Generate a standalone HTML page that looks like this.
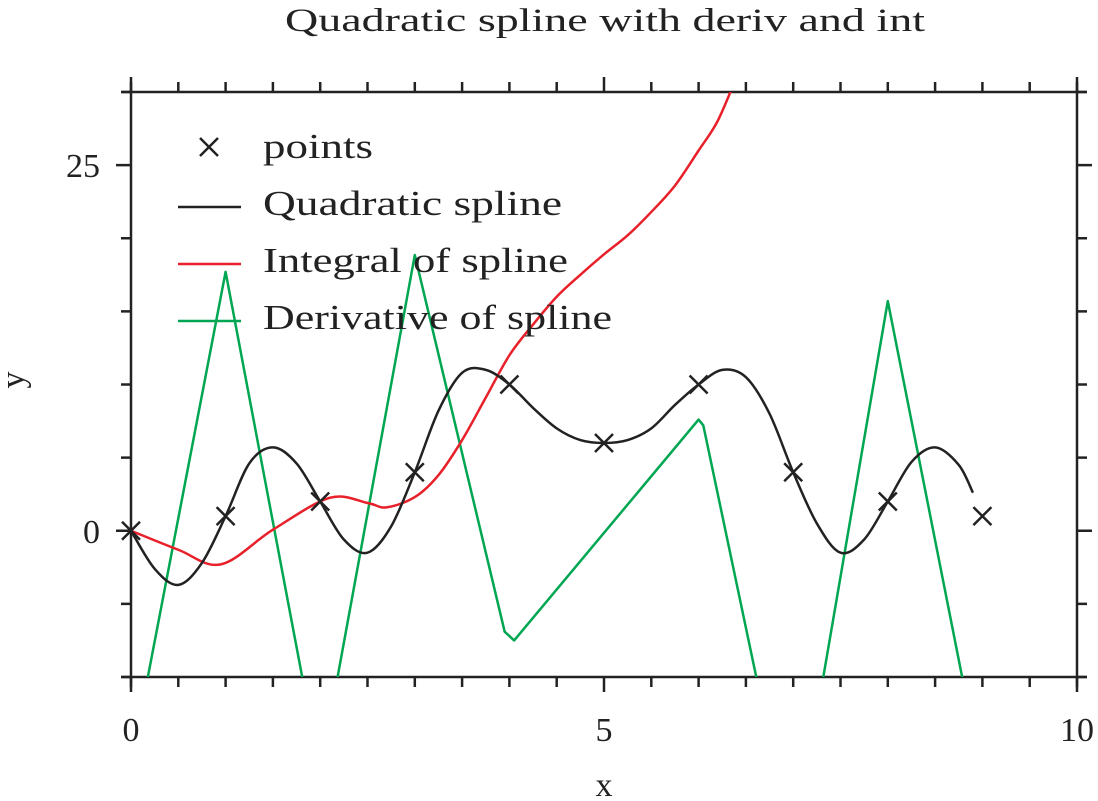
<!DOCTYPE html>
<html><head><meta charset="utf-8"><style>
html,body{margin:0;padding:0;background:#fff;overflow:hidden;width:1098px;height:801px}
svg{display:block}
text{font-family:"Liberation Serif",serif;fill:#222}
</style></head><body>
<svg id="chart" width="1098" height="801" viewBox="0 0 1098 801">
<defs><clipPath id="plotclip"><rect x="131" y="92" width="946" height="585"/></clipPath></defs>
<text x="285" y="31" font-size="33" textLength="640" lengthAdjust="spacingAndGlyphs">Quadratic spline with deriv and int</text>
<g id="axes"></g>
<g id="series" clip-path="url(#plotclip)"></g>
<g id="legend"></g>
<text x="604" y="796" text-anchor="middle" font-size="34">x</text>
<text transform="translate(24,380) rotate(-90)" text-anchor="middle" font-size="34">y</text>
</svg>
<script>
const pointsX=[0,1,2,3,4,5,6,7,8,9];
const pointsY=[0,1,2,4,10,6,10,4,2,1];
const splineX=[0,0.25,0.5,0.75,1,1.25,1.5,1.75,2,2.25,2.5,2.75,3,3.25,3.5,3.75,4,4.25,4.5,4.75,5,5.25,5.5,5.75,6,6.25,6.5,6.75,7,7.25,7.5,7.75,8,8.25,8.5,8.75,8.9];
const splineY=[0,-2.6,-3.7,-2.2,1,4.6,5.7,4.6,2,-0.6,-1.5,0.3,4,8.2,10.8,11,10,8.4,7.0,6.2,6,6.2,7,8.6,10,11,10.5,8,4,0.5,-1.5,-0.6,2,4.7,5.7,4.5,2.6];
const integX=[0,0.5,0.95,1.5,2.1,2.5,2.7,3,3.25,3.5,3.75,4,4.25,4.5,4.75,5,5.25,5.5,5.75,6,6.2,6.4];
const integY=[0,-1.3,-2.3,0.07,2.25,1.9,1.6,2.3,3.8,6.2,9.1,12,14.1,16,17.5,18.9,20.2,21.8,23.6,26,28,31];
const derivX=[0,1,2,3,3.95,4.05,6,6.05,7,8,9];
const derivY=[-16,17.7,-16.5,18.85,-6.9,-7.5,7.6,7.2,-22,15.7,-17];
const xTicks=[0,5,10];
const yTicks=[0,25];

const X0=131,X1=1077,Y0=677,Y1=92,xmin=0,xmax=10,ymin=-10,ymax=30;
const sx=v=>X0+(v-xmin)/(xmax-xmin)*(X1-X0);
const sy=v=>Y0-(v-ymin)/(ymax-ymin)*(Y0-Y1);
const NS="http://www.w3.org/2000/svg";
function mk(t,a,p){const e=document.createElementNS(NS,t);for(const k in a)e.setAttribute(k,a[k]);p.appendChild(e);return e;}
const axes=document.getElementById('axes'),ser=document.getElementById('series'),leg=document.getElementById('legend');
const st={stroke:'#222','stroke-width':2.5,fill:'none'};
let e;
e=mk('line',Object.assign({x1:121,y1:Y0,x2:1087,y2:Y0},st),axes);
e=mk('line',Object.assign({x1:121,y1:Y1,x2:1087,y2:Y1},st),axes);
e=mk('line',Object.assign({x1:X0,y1:82,x2:X0,y2:687},st),axes);
e=mk('line',Object.assign({x1:X1,y1:82,x2:X1,y2:687},st),axes);
for(let v=0;v<=10.001;v+=0.5){const major=Math.abs(v%5)<1e-6;const L=major?15:10;const x=sx(v);
 e=mk('line',Object.assign({x1:x,y1:Y0,x2:x,y2:Y0+L},st),axes);
 e=mk('line',Object.assign({x1:x,y1:Y1,x2:x,y2:Y1-L},st),axes);}
for(let v=-10;v<=30;v+=5){const major=v%25===0;const L=major?15:10;const y=sy(v);
 e=mk('line',Object.assign({x1:X0,y1:y,x2:X0-L,y2:y},st),axes);
 e=mk('line',Object.assign({x1:X1,y1:y,x2:X1+L,y2:y},st),axes);}
xTicks.forEach(v=>{e=mk('text',{x:sx(v),y:741,'text-anchor':'middle','font-size':34},axes);e.textContent=v;
 });
yTicks.forEach(v=>{e=mk('text',{x:100,y:sy(v)+12,'text-anchor':'end','font-size':34},axes);e.textContent=v;
 });
function poly(xs,ys,col,name,smooth){
 const P=xs.map((x,i)=>[sx(x),sy(ys[i])]);let d='M'+P[0][0]+','+P[0][1];
 for(let i=1;i<P.length;i++){
  if(smooth){const p0=P[Math.max(0,i-2)],p1=P[i-1],p2=P[i],p3=P[Math.min(P.length-1,i+1)];
   const c1=[p1[0]+(p2[0]-p0[0])/6,p1[1]+(p2[1]-p0[1])/6],c2=[p2[0]-(p3[0]-p1[0])/6,p2[1]-(p3[1]-p1[1])/6];
   d+=' C'+c1+' '+c2+' '+p2;}else d+=' L'+P[i];}
 const el=mk('path',{d:d,stroke:col,'stroke-width':2.5,fill:'none','stroke-linejoin':'round'},ser);
 
 }
poly(derivX,derivY,'#00a651','derivative-line',false);
poly(integX,integY,'#e8202a','integral-line',true);
poly(splineX,splineY,'#222','spline-line',true);
function cross(cx,cy,g,name){const s=9;
 const el=mk('path',{d:`M${cx-s},${cy-s}L${cx+s},${cy+s}M${cx-s},${cy+s}L${cx+s},${cy-s}`,stroke:'#222','stroke-width':2.5,fill:'none'},g);
 
 }
const pg=mk('g',{},document.getElementById('chart'));


pointsX.forEach((x,i)=>cross(sx(x),sy(pointsY[i]),pg,'point-marker'));
const items=[['points','marker',null,110],['Quadratic spline','line','#222',299],['Integral of spline','line','#e8202a',305],['Derivative of spline','line','#00a651',349]];
items.forEach((it,i)=>{const y=147+i*57;
 if(it[1]==='marker')cross(209,y,leg,'legend-marker-points');
 else{const l=mk('line',{x1:178,y1:y+3,x2:241,y2:y+3,stroke:it[2],'stroke-width':2.5},leg);
  
  }
 const t=mk('text',{x:263,y:y+11,'font-size':35,textLength:it[3],lengthAdjust:'spacingAndGlyphs'},leg);t.textContent=it[0];
 
 });
</script>
</body></html>
